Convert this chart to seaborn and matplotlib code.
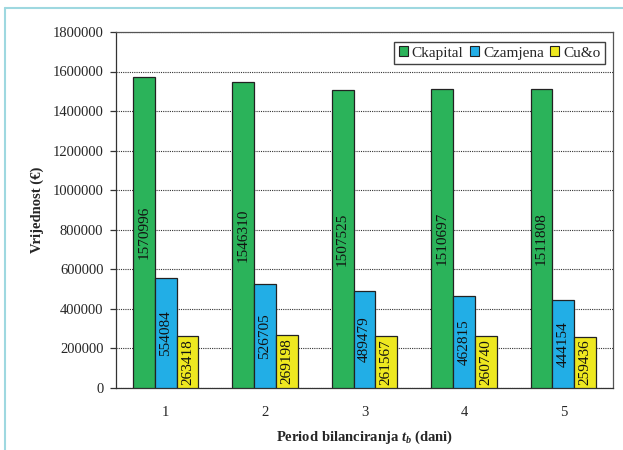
import matplotlib
matplotlib.use("Agg")
import matplotlib.pyplot as plt
from matplotlib.lines import Line2D
from matplotlib.patches import Patch
import seaborn as sns
import pandas as pd

periods = ["1", "2", "3", "4", "5"]
series_names = ["Ckapital", "Czamjena", "Cu&o"]
c_kapital = [1570996, 1546310, 1507525, 1510697, 1511808]
c_zamjena = [554084, 526705, 489479, 462815, 444154]
c_uo = [263418, 269198, 261567, 260740, 259436]
y_ticks = [0, 200000, 400000, 600000, 800000, 1000000, 1200000, 1400000, 1600000, 1800000]
colors = ["#2BB35A", "#22AEE6", "#EEE820"]

df = pd.DataFrame({
    "period": periods * 3,
    "serija": [series_names[0]] * 5 + [series_names[1]] * 5 + [series_names[2]] * 5,
    "vrijednost": c_kapital + c_zamjena + c_uo,
})

sns.set_theme(style="white")
plt.rcParams["font.family"] = ["Liberation Serif", "DejaVu Serif"]
plt.rcParams["mathtext.fontset"] = "custom"
plt.rcParams["mathtext.it"] = "Liberation Serif:italic:bold"
plt.rcParams["mathtext.rm"] = "Liberation Serif:bold"

fig = plt.figure(figsize=(6.23, 4.5), dpi=100)
ax = fig.add_axes([0.186, 0.138, 0.798, 0.791])

sns.barplot(data=df, x="period", y="vrijednost", hue="serija", order=periods,
            hue_order=series_names, palette=colors, width=0.66, saturation=1,
            edgecolor="#222222", linewidth=0.9, legend=False, ax=ax, zorder=3)

# value labels inside each bar, rotated
for container in ax.containers:
    for bar in container:
        h = bar.get_height()
        ax.text(bar.get_x() + bar.get_width() / 2, h / 2, f"{int(round(h))}",
                rotation=90, ha="center", va="center", fontsize=11,
                color="#111111", zorder=4)

ax.set_ylim(0, 1800000)
ax.set_xlim(-0.5, 4.5)
ax.set_yticks(y_ticks)
ax.set_yticklabels([str(v) for v in y_ticks], fontsize=10.5)
ax.yaxis.grid(True, linestyle=(0, (1, 1)), color="#333333", linewidth=0.8, zorder=0)
ax.set_axisbelow(True)

# category labels without ticks, boundary ticks between groups
ax.tick_params(axis="x", which="major", length=0, labelsize=10.5, pad=13)
ax.set_xticks([i - 0.5 for i in range(6)], minor=True)
ax.tick_params(axis="x", which="minor", length=5, width=0.9, color="#333333", direction="out")
ax.tick_params(axis="y", length=4, width=0.9, color="#333333", direction="out", left=True, pad=5)

for s in ax.spines.values():
    s.set_color("#555555")
    s.set_linewidth(0.9)
ax.spines["left"].set_color("#333333")
ax.spines["bottom"].set_color("#333333")

ax.set_ylabel("Vrijednost (€)", fontsize=10.5, fontweight="bold", labelpad=6)
ax.set_xlabel(r"Period bilanciranja $t_b$ (dani)", fontsize=10.5, fontweight="bold", labelpad=7)

handles = [Patch(facecolor=c, edgecolor="#222222", linewidth=0.8) for c in colors]
leg = ax.legend(handles, series_names, ncol=3, loc="upper right",
                bbox_to_anchor=(0.984, 0.972), borderaxespad=0, frameon=True,
                fancybox=False, fontsize=11, handlelength=0.62, handleheight=0.62,
                handletextpad=0.25, columnspacing=0.4, borderpad=0.3)
leg.get_frame().set_edgecolor("#111111")
leg.get_frame().set_linewidth(1.0)

# page frame lines at top and left
fig.add_artist(Line2D([0.008, 1.0], [0.982, 0.982], color="#9ED8E0", linewidth=1.5))
fig.add_artist(Line2D([0.008, 0.008], [0.0, 0.982], color="#9ED8E0", linewidth=1.5))

fig.savefig("out.png", dpi=100)
